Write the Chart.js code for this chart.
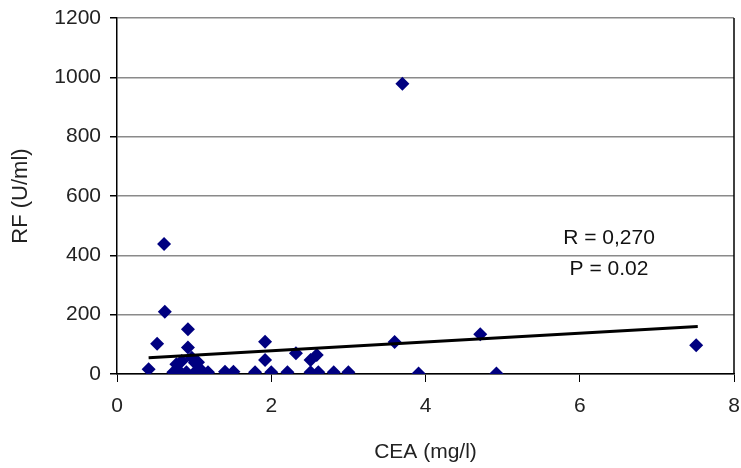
<!DOCTYPE html>
<html>
<head>
<meta charset="utf-8">
<script src="https://cdn.jsdelivr.net/npm/chart.js@4"></script>
<style>
  html, body { margin: 0; padding: 0; background: #fff; }
  #wrap { width: 741px; height: 468px; }
</style>
</head>
<body>
<div id="wrap"><canvas id="rfChart" width="741" height="468"></canvas></div>
<script>
// CEA (mg/l) vs RF (U/ml)
const cea = [0.41, 0.52, 0.61, 0.62, 0.92, 0.92, 0.97, 1.01, 0.77, 0.84, 1.05,
             0.73, 0.82, 0.90, 1.01, 1.08, 1.18, 1.40, 1.51, 1.79, 1.92, 1.92,
             2.00, 2.21, 2.32, 2.51, 2.59, 2.51, 2.61, 2.81, 3.00, 3.60, 3.70,
             3.91, 4.71, 4.92, 7.51];
const rf = [16, 102, 438, 210, 151, 89, 55, 38, 33, 44, 40,
            6, 6, 6, 6, 16, 6, 8, 8, 6, 109, 47,
            6, 6, 70, 47, 64, 6, 6, 6, 6, 108, 978,
            2, 134, 2, 97];

// trend line end points
const trendX = [0.41, 7.53];
const trendY = [55, 160];

const xTicks = [0, 2, 4, 6, 8];
const yTicks = [0, 200, 400, 600, 800, 1000, 1200];
const statLines = ['R = 0,270', 'P = 0.02'];

const points = cea.map((x, i) => ({ x: x, y: rf[i] }));
const trend = trendX.map((x, i) => ({ x: x, y: trendY[i] }));

const FONT = '"Liberation Sans", Arial, sans-serif';

const extras = {
  id: 'extras',
  afterDraw(chart) {
    const ctx = chart.ctx;
    const a = chart.chartArea;
    ctx.save();
    // right border of the plot area
    ctx.strokeStyle = '#000';
    ctx.lineWidth = 1.5;
    ctx.beginPath();
    ctx.moveTo(a.right, a.top);
    ctx.lineTo(a.right, a.bottom);
    ctx.stroke();
    // R / P text
    ctx.fillStyle = '#111';
    ctx.font = '21px ' + FONT;
    ctx.textAlign = 'center';
    ctx.textBaseline = 'middle';
    ctx.fillText(statLines[0], 609, 238);
    ctx.fillText(statLines[1], 609, 269);
    ctx.restore();
  }
};

new Chart(document.getElementById('rfChart').getContext('2d'), {
  type: 'scatter',
  data: {
    datasets: [
      {
        label: 'RF',
        data: points,
        pointStyle: 'rectRot',
        pointRadius: 7,
        pointHoverRadius: 7,
        backgroundColor: '#000080',
        borderColor: '#000080',
        borderWidth: 0,
        order: 2
      },
      {
        label: 'trend',
        data: trend,
        showLine: true,
        pointRadius: 0,
        borderColor: '#000',
        borderWidth: 3,
        order: 1
      }
    ]
  },
  options: {
    responsive: false,
    animation: false,
    layout: { padding: { top: 18, right: 0, left: 0, bottom: 0 } },
    plugins: {
      legend: { display: false },
      tooltip: { enabled: false }
    },
    scales: {
      x: {
        type: 'linear',
        min: 0, max: 8,
        afterBuildTicks: s => { s.ticks = xTicks.map(v => ({ value: v })); },
        afterFit: s => { s.height = 94; s.paddingLeft = 0; s.paddingRight = 7; },
        grid: { drawOnChartArea: false, color: '#000', tickLength: 8, tickColor: '#000' },
        border: { color: '#000', width: 1.5 },
        ticks: { color: '#222', padding: 12, callback: v => String(v), font: { family: FONT, size: 21 } },
        title: { display: true, text: 'CEA (mg/l)', color: '#222', padding: { top: 4, bottom: 3 },
                 font: { family: FONT, size: 21 } }
      },
      y: {
        min: 0, max: 1200,
        afterBuildTicks: s => { s.ticks = yTicks.map(v => ({ value: v })); },
        afterFit: s => { s.width = 117; s.paddingTop = 0; },
        grid: { color: '#8a8a8a', lineWidth: 1.5, tickLength: 7, tickColor: '#000' },
        border: { color: '#000', width: 1.5 },
        ticks: { color: '#222', padding: 9, callback: v => String(v), font: { family: FONT, size: 21 } },
        title: { display: true, text: 'RF (U/ml)', color: '#222', padding: { top: 8, bottom: 4 },
                 font: { family: FONT, size: 22 } }
      }
    }
  },
  plugins: [extras]
});
</script>
</body>
</html>
